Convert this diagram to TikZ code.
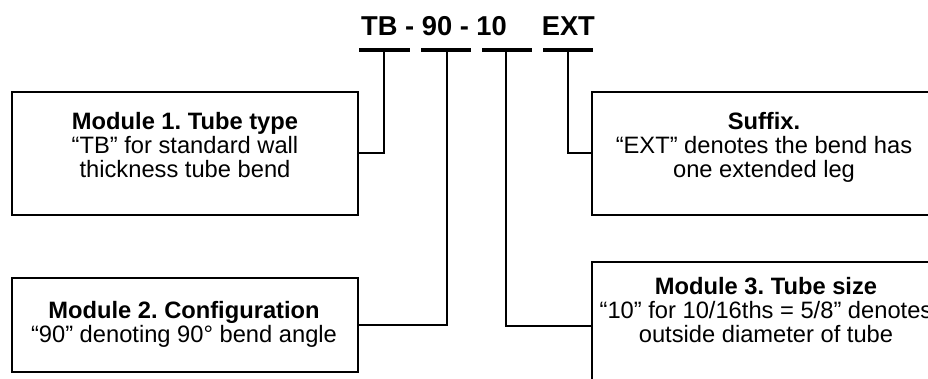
\documentclass[tikz,border=0pt]{standalone}
\usepackage{fontspec}
\setmainfont{Liberation Sans}
\frenchspacing
\begin{document}
\begin{tikzpicture}[x=1pt,y=-1pt,
  box/.style={draw, line width=2pt, minimum width=346pt, inner sep=0pt},
  txt/.style={align=center, inner sep=0pt, font=\fontsize{23.7}{24}\selectfont},
  bar/.style={line width=3.6pt},
  conn/.style={line width=2pt}]
\useasboundingbox (0,0) rectangle (928,379);
\clip (0,0) rectangle (928,379);
\fill[white] (0,0) rectangle (928,379);
% title
\node[anchor=base west, inner sep=0pt, font=\bfseries\fontsize{27.3}{27}\selectfont] (title) at (361,36) {TB - 90 - 10\hspace{35pt}EXT};
% bars under the code parts
\draw[bar] (359,50) -- (410,50);
\draw[bar] (421,50) -- (471,50);
\draw[bar] (482,50) -- (532,50);
\draw[bar] (543,50) -- (593,50);
\coordinate (b1) at (384,50);
\coordinate (b2) at (447,50);
\coordinate (b3) at (506,50);
\coordinate (b4) at (568,50);
% boxes
\node[box, minimum height=123pt] (m1) at (185,153.5) {};
\node[box, minimum height=123pt] (sx) at (764.5,153.5) {};
\node[box, minimum height=94pt] (m2) at (184.5,325) {};
\node[box, minimum height=128pt] (m3) at (764.5,326) {};
% texts
\node[txt] (t1) at (185,145) {\textbf{Module 1. Tube type}\\“TB” for standard wall\\thickness tube bend};
\node[txt] (tsx) at (764,147) {\textbf{Suffix.}\\“EXT” denotes the bend has\\one extended leg};
\node[txt] (t2) at (184,324) {\textbf{Module 2. Configuration}\\“90” denoting 90° bend angle};
\node[txt] (t3) at (766,310.5) {\textbf{Module 3. Tube size}\\“10” for 10/16ths = 5/8” denotes\\outside diameter of tube};
% connectors
\draw[conn] (b1) |- (m1.east);
\draw[conn] (b2) |- (m2.east);
\draw[conn, line width=1.6pt] (b3) |- (m3.west);
\draw[conn] (b4) |- (sx.west);
\end{tikzpicture}
\end{document}
